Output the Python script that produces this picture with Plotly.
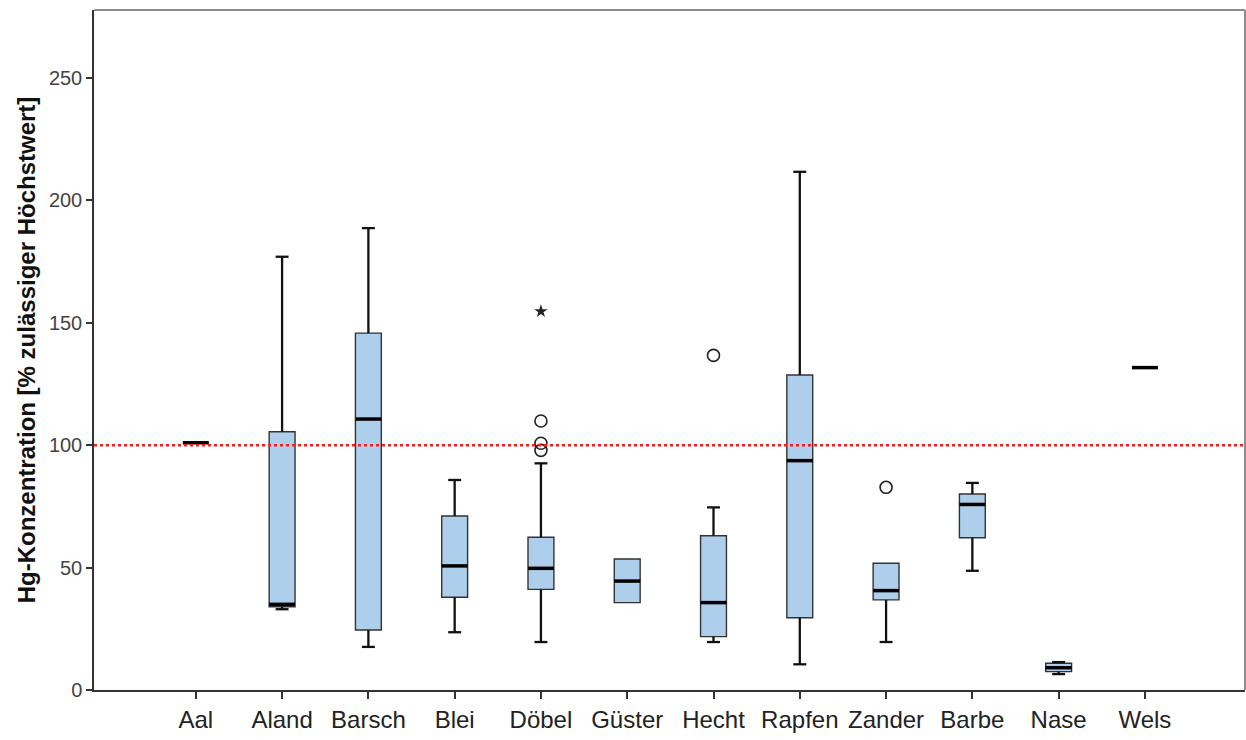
import plotly.graph_objects as go

categories = ["Aal", "Aland", "Barsch", "Blei", "Döbel", "Güster", "Hecht",
              "Rapfen", "Zander", "Barbe", "Nase", "Wels"]
lower_whisker = [101, 33, 17.6, 23.6, 19.6, 35.7, 19.6, 10.5, 19.6, 48.7, 6.5, 131.7]
q1_values     = [101, 34, 24.5, 37.9, 41.1, 35.7, 21.8, 29.5, 36.8, 62.2, 7.5, 131.7]
median_values = [101, 35, 110.7, 50.7, 49.7, 44.5, 35.7, 93.7, 40.6, 75.8, 9.1, 131.7]
q3_values     = [101, 105.5, 145.8, 71.1, 62.4, 53.5, 63.0, 128.7, 51.8, 80.1, 10.9, 131.7]
upper_whisker = [101, 177, 188.7, 85.8, 92.6, 53.5, 74.6, 211.7, 51.8, 84.6, 11.4, 131.7]

# outliers (circles) and extreme values (stars)
outlier_cats = ["Döbel", "Döbel", "Döbel", "Hecht", "Zander"]
outlier_vals = [109.9, 100.8, 97.9, 136.7, 82.8]
extreme_cats = ["Döbel"]
extreme_vals = [154.7]

threshold = 100
yticks = [0, 50, 100, 150, 200, 250]

pos = {c: i for i, c in enumerate(categories)}
xs = list(range(len(categories)))
box_w = 0.3
cap_w = box_w / 4

fig = go.Figure()

# whiskers (thicker black, as in SPSS)
wx, wy = [], []
for i in xs:
    lo, q1, q3, hi = lower_whisker[i], q1_values[i], q3_values[i], upper_whisker[i]
    if hi > q3:
        wx += [i, i, None, i - cap_w, i + cap_w, None]
        wy += [q3, hi, None, hi, hi, None]
    if lo < q1:
        wx += [i, i, None, i - cap_w, i + cap_w, None]
        wy += [q1, lo, None, lo, lo, None]
fig.add_trace(go.Scatter(x=wx, y=wy, mode="lines",
                         line=dict(color="#111", width=2.3),
                         showlegend=False, hoverinfo="skip"))

fig.add_trace(go.Box(
    x=xs, q1=q1_values, median=median_values, q3=q3_values,
    lowerfence=q1_values, upperfence=q3_values,
    width=box_w, whiskerwidth=0.5, boxpoints=False,
    fillcolor="#AECFEC", line=dict(color="#333", width=1.4),
    showlegend=False, hoverinfo="skip"))

# thick median lines
mx, my = [], []
for i, m in enumerate(median_values):
    mx += [i - box_w / 2, i + box_w / 2, None]
    my += [m, m, None]
fig.add_trace(go.Scatter(x=mx, y=my, mode="lines",
                         line=dict(color="black", width=3.5),
                         showlegend=False, hoverinfo="skip"))

fig.add_trace(go.Scatter(
    x=[pos[c] for c in outlier_cats], y=outlier_vals, mode="markers",
    marker=dict(symbol="circle-open", size=12, color="#222",
                line=dict(width=1.6, color="#222")),
    showlegend=False, hoverinfo="skip"))
fig.add_trace(go.Scatter(
    x=[pos[c] for c in extreme_cats], y=extreme_vals, mode="markers",
    marker=dict(symbol="star", size=10, color="#222"),
    showlegend=False, hoverinfo="skip"))

fig.add_shape(type="line", xref="paper", x0=0, x1=1, yref="y",
              y0=threshold, y1=threshold,
              line=dict(color="#ff1a1a", width=2.5, dash="dot"))
# lighter top and right frame
fig.add_shape(type="line", xref="paper", yref="paper", x0=0, x1=1, y0=1, y1=1,
              line=dict(color="#8c8c8c", width=2))
fig.add_shape(type="line", xref="paper", yref="paper", x0=1, x1=1, y0=0, y1=1,
              line=dict(color="#8c8c8c", width=2))

fig.update_layout(
    width=1246, height=740,
    margin=dict(l=94, r=1, t=10, b=50),
    paper_bgcolor="white", plot_bgcolor="white",
    font=dict(family="Liberation Sans, Arial, sans-serif", color="#222"),
    xaxis=dict(range=[-1.18, 12.16], tickmode="array", tickvals=xs,
               ticktext=categories, ticks="outside", ticklen=7,
               tickwidth=1.5, tickcolor="#333", showline=True,
               linecolor="#333", linewidth=1.5, showgrid=False,
               zeroline=False, tickfont=dict(size=24, color="#222")),
    yaxis=dict(range=[0, 277.8], tickmode="array", tickvals=yticks,
               ticks="outside", ticklen=6, tickwidth=1.5, tickcolor="#333",
               showline=True, linecolor="#333", linewidth=1.5,
               showgrid=False, zeroline=False,
               tickfont=dict(size=20, color="#444"),
               title=dict(text="<b>Hg-Konzentration [% zulässiger Höchstwert]</b>",
                          font=dict(size=24, color="#111"), standoff=6)),
)

fig.write_html("out.html")
